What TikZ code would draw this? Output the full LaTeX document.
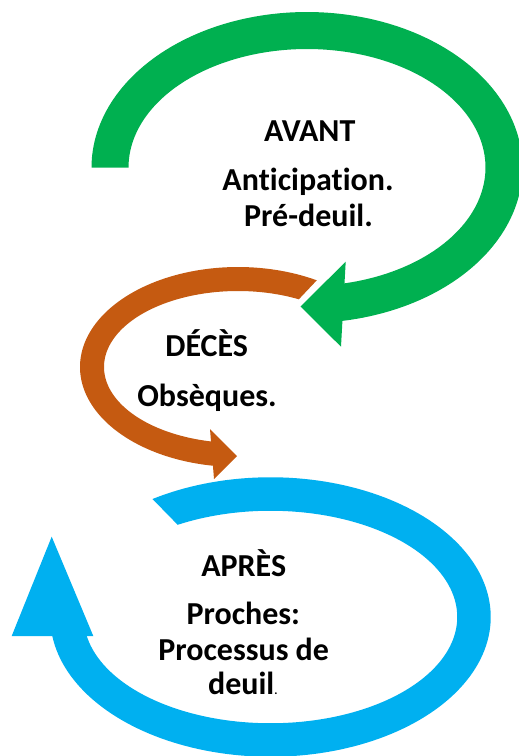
\documentclass[tikz,border=0pt]{standalone}
\usepackage{fontspec}
\setmainfont[Ligatures={NoCommon}]{Carlito}
\definecolor{avantgreen}{RGB}{0,176,80}
\definecolor{decesbrown}{RGB}{197,90,17}
\definecolor{apresblue}{RGB}{0,176,240}
\begin{document}
\begin{tikzpicture}[x=1pt,y=-1pt,
  lbl/.style={anchor=base, inner sep=0pt, text=black, font=\bfseries\fontsize{32}{36}\selectfont},
  band/.style={samples=160, variable=\t}]
\useasboundingbox (0,0) rectangle (519,756);
\clip (0,0) rectangle (519,756);

% green arrow (AVANT)
\fill[avantgreen]
  plot[band, domain=180:441.5] ({307+215.5*cos(\t)},{167.5+155.5*sin(\t)})
  -- plot[band, domain=438.5:180] ({307+178.5*cos(\t)},{167.5+118.5*sin(\t)})
  -- cycle;
\fill[avantgreen] (345.7,261.7) -- (300.5,306.5) -- (341,346.7) -- cycle;

% brown arrow (DECES)
\fill[decesbrown]
  plot[band, domain=-60.1:-262] ({238+158*cos(\t)},{367+100*sin(\t)})
  -- plot[band, domain=-259.5:-63] ({238+134*cos(\t)},{367+76*sin(\t)})
  -- cycle;
\fill[decesbrown] (210,429) -- (237,456) -- (214,479) -- cycle;

% blue arrow (APRES)
\fill[apresblue]
  plot[band, domain=237.6:534] ({270.5+220.25*cos(\t)},{617+139.75*sin(\t)})
  -- plot[band, domain=532:240.2] ({270.5+186.75*cos(\t)},{617+106.25*sin(\t)})
  -- cycle;
\fill[apresblue] (51.7,536.7) -- (11.7,636) -- (93.3,636) -- cycle;

% texts
\node[lbl] (avant) at (309.7,141.7) {AVANT};
\node[lbl] (antic) at (308,190.7) {Anticipation.};
\node[lbl] (pre) at (308.5,226) {Pré-deuil.};
\node[lbl] (deces) at (206.7,356.7) {DÉCÈS};
\node[lbl] (obs) at (207,406.5) {Obsèques.};
\node[lbl] (apres) at (243.7,576) {APRÈS};
\node[lbl] (proches) at (243.3,624.3) {Proches:};
\node[lbl] (processus) at (243.7,660) {Processus de};
\node[lbl] (deuil) at (242.8,694) {deuil{\fontsize{12}{12}\selectfont.}};
\end{tikzpicture}
\end{document}
